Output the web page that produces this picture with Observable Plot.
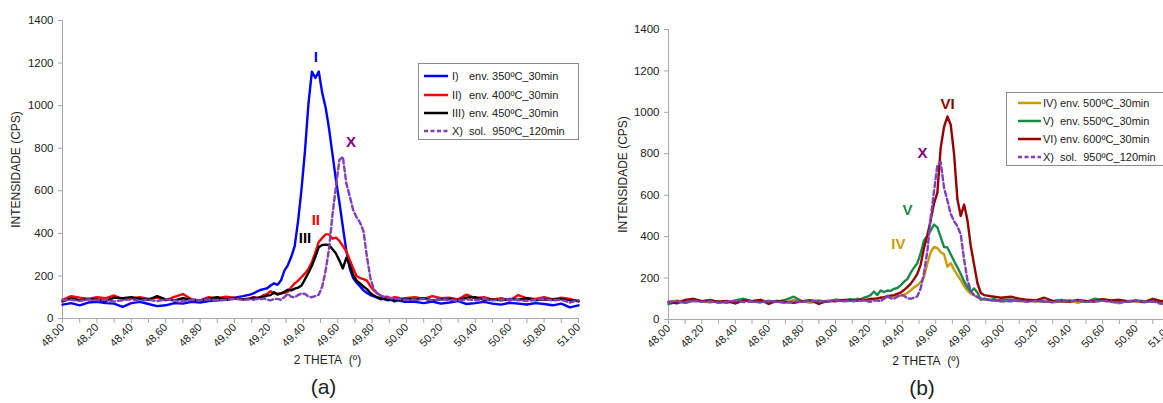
<!DOCTYPE html>
<html><head><meta charset="utf-8">
<script src="https://cdn.jsdelivr.net/npm/d3@7"></script>
<script src="https://cdn.jsdelivr.net/npm/@observablehq/plot@0.6"></script>
<style>
body{margin:0;background:#fff;}
#wrap{position:relative;width:1163px;height:403px;overflow:hidden;font-family:"Liberation Sans",Arial,sans-serif;background:#fff;}
.panel{position:absolute;top:0;}
.legend{position:absolute;border:1px solid #8c8c8c;background:#fff;font-size:11px;color:#222;box-sizing:border-box;}
.row{position:absolute;height:14px;line-height:14px;white-space:pre;}
.sw{position:absolute;}
</style></head>
<body><div id="wrap"></div>
<script>
// 2θ sample positions
const thetaLeft = [48.00,48.05,48.10,48.15,48.20,48.25,48.30,48.35,48.40,48.45,48.50,48.55,48.60,48.65,48.70,48.75,48.80,48.85,48.90,48.95,49.00,49.05];
const thetaPeak = [49.09,49.11,49.13,49.15,49.17,49.19,49.21,49.23,49.25,49.27,49.29,49.31,49.33,49.35,49.37,49.39,49.41,49.43,49.45,49.47,49.49,49.51,49.53,49.55,49.57,49.59,49.61,49.63,49.65,49.67,49.69,49.71,49.73,49.75,49.77,49.79,49.81,49.83,49.85,49.87,49.89,49.91,49.93,49.95,49.97,49.99];
const thetaRight = [50.05,50.10,50.15,50.20,50.25,50.30,50.35,50.40,50.45,50.50,50.55,50.60,50.65,50.70,50.75,50.80,50.85,50.90,50.95,51.00];
const theta = [...thetaLeft, ...thetaPeak, ...thetaRight];

// Panel (a)
const seriesI = [
  65,72,62,75,78,72,70,55,72,78,68,58,62,72,70,78,75,82,85,88,98,105,
  112,118,126,134,138,142,155,165,158,178,225,250,290,340,460,610,790,1010,1160,1130,1160,1060,990,890,770,650,545,430,320,235,190,168,150,132,120,110,104,98,90,92,85,88,80,85,82,78,
  78,72,80,70,75,82,68,72,78,70,65,74,70,66,72,68,62,70,52,62];
const seriesII = [
  88,105,98,92,100,95,108,90,95,100,92,98,85,102,115,90,85,100,95,102,98,90,
  95,100,98,100,110,116,128,118,116,118,120,125,147,165,178,195,212,232,265,310,360,378,395,395,375,380,365,340,315,275,235,200,190,185,178,152,132,118,108,100,102,95,100,98,92,95,
  100,92,105,95,98,90,112,95,100,88,95,85,110,95,92,100,90,98,92,80];
const seriesIII = [
  80,95,85,92,88,82,98,95,100,92,88,105,90,85,95,88,85,92,100,88,95,90,
  92,98,95,100,102,108,110,123,112,118,125,135,132,140,145,155,185,215,248,290,335,345,347,345,325,305,272,235,285,250,205,178,165,150,138,120,108,100,95,92,88,92,85,90,88,92,
  88,95,85,90,92,85,98,100,88,90,85,92,88,95,85,90,88,92,85,82];
// shared reference (both panels)
const seriesX = [
  85,88,82,90,85,88,80,86,90,84,88,82,90,85,80,88,85,90,86,88,92,88,
  90,88,92,90,95,88,85,92,92,88,100,116,102,100,110,118,115,103,100,105,112,150,225,330,490,620,745,760,635,575,510,475,450,410,290,190,138,118,108,102,100,95,92,92,90,88,
  88,92,85,90,88,84,90,86,92,85,88,90,86,82,88,92,85,88,75,86];
// Panel (b)
const seriesIV = [
  85,92,80,95,88,82,90,86,78,92,88,95,85,90,82,95,88,80,92,85,96,90,
  95,92,98,90,95,100,96,102,98,105,102,108,106,110,112,115,120,128,140,155,165,180,205,270,325,350,345,325,315,255,272,240,215,190,162,140,125,116,108,100,98,95,92,95,90,88,
  92,88,95,85,90,82,88,95,80,90,86,92,85,78,90,88,82,95,80,85];
const seriesV = [
  75,85,82,90,88,95,85,80,92,100,88,85,90,86,95,110,88,92,90,85,95,92,
  98,95,100,96,105,110,118,135,118,140,132,140,138,148,152,165,182,195,225,250,272,320,382,405,430,458,445,398,350,348,315,282,252,220,185,155,135,150,130,95,100,98,95,100,92,95,
  95,90,88,92,85,90,95,88,92,85,100,95,90,88,85,92,88,85,90,88];
const seriesVI = [
  85,78,95,100,88,92,85,90,78,92,88,95,75,90,85,80,88,92,75,90,88,95,
  92,95,90,98,92,95,100,98,102,105,108,112,115,118,124,130,142,156,172,195,220,265,345,405,480,560,612,830,930,980,940,800,580,500,555,480,355,265,175,128,118,115,112,110,108,105,
  110,100,95,92,105,90,88,85,95,90,88,98,92,95,88,90,85,100,88,92];

const yTicks = [0,200,400,600,800,1000,1200,1400];
const xTicks = [48.0,48.1,48.2,48.3,48.4,48.5,48.6,48.7,48.8,48.9,49.0,49.1,49.2,49.3,49.4,49.5,49.6,49.7,49.8,49.9,50.0,50.1,50.2,50.3,50.4,50.5,50.6,50.7,50.8,50.9,51.0];
const xLabel = "2 THETA\u00a0\u00a0(º)";
const yLabel = "INTENSIDADE (CPS)";

const legendA = [
  {name:"I)", text:"env. 350ºC_30min", color:"#0000ff"},
  {name:"II)", text:"env. 400ºC_30min", color:"#ff0000"},
  {name:"III)", text:"env. 450ºC_30min", color:"#000000"},
  {name:"X)", text:"sol.\u00a0\u00a0950ºC_120min", color:"#7f3fbf", dash:true}
];
const legendB = [
  {name:"IV)", text:"env. 500ºC_30min", color:"#cc9a06"},
  {name:"V)", text:"env. 550ºC_30min", color:"#178a47"},
  {name:"VI)", text:"env. 600ºC_30min", color:"#980000"},
  {name:"X)", text:"sol.\u00a0\u00a0950ºC_120min", color:"#7f3fbf", dash:true}
];

const linesA = [
  {values: seriesI, color:"#0000ff"},
  {values: seriesII, color:"#ff0000"},
  {values: seriesIII, color:"#000000"},
  {values: seriesX, color:"#7f3fbf", dash:"5,3"}
];
const linesB = [
  {values: seriesIV, color:"#cc9a06"},
  {values: seriesV, color:"#178a47"},
  {values: seriesVI, color:"#980000"},
  {values: seriesX, color:"#7f3fbf", dash:"5,3"}
];
const notesA = [
  {x:49.473, y:1226, text:"I", color:"#0000ff"},
  {x:49.677, y:827, text:"X", color:"#800080"},
  {x:49.473, y:460, text:"II", color:"#ff0000"},
  {x:49.41, y:376, text:"III", color:"#000000"}
];
const notesB = [
  {x:49.671, y:1038, text:"VI", color:"#980000"},
  {x:49.521, y:802, text:"X", color:"#800080"},
  {x:49.431, y:526, text:"V", color:"#178a47"},
  {x:49.377, y:362, text:"IV", color:"#cc9a06"}
];

const fmt = d => d.toFixed(2).replace(".", ",");

function panel(lines, notes, caption, m) {
  return Plot.plot({
    width: 590, height: 403,
    marginLeft: m.left, marginRight: m.right, marginTop: m.top, marginBottom: m.bottom,
    x: {domain: [48, 51]},
    y: {domain: [0, 1400]},
    style: {fontFamily: '"Liberation Sans", Arial, sans-serif', fontSize: "11.5px", color: "#222", background: "transparent", overflow: "visible"},
    marks: [
      Plot.ruleX([48], {stroke: "#a8a8a8"}),
      Plot.ruleY([0], {stroke: "#a8a8a8"}),
      Plot.axisY({ticks: yTicks, tickSize: 4, tickPadding: 5, stroke: "#a8a8a8", label: null, fontSize: 11.5, tickFormat: d => String(d)}),
      Plot.axisX({ticks: xTicks, tickSize: 5, tickPadding: 2, stroke: "#a8a8a8", tickRotate: -45, label: null, fontSize: 11,
        tickFormat: d => Math.round(d * 10) % 2 === 0 ? fmt(d) : ""}),
      ...lines.map(s => Plot.line(theta.map((t, i) => ({t, v: s.values[i]})), {x: "t", y: "v", stroke: s.color, strokeWidth: 2.4, strokeDasharray: s.dash})),
      ...notes.map(n => Plot.text([n], {x: "x", y: "y", text: "text", fill: n.color, fontWeight: "bold", fontSize: 15})),
      Plot.text([xLabel], {frameAnchor: "bottom", textAnchor: "middle", lineAnchor: "middle", dx: 7, dy: 42, fontSize: 12}),
      Plot.text([caption], {frameAnchor: "bottom", textAnchor: "middle", lineAnchor: "middle", dx: 3, dy: 69, fontSize: 21}),
      Plot.text([yLabel], {frameAnchor: "left", textAnchor: "middle", lineAnchor: "middle", dx: m.ylab, rotate: -90, fontSize: 12})
    ]
  });
}

function legend(items, box, rows, sw, textX) {
  const div = document.createElement("div");
  div.className = "legend";
  Object.assign(div.style, {left: box.left + "px", top: box.top + "px", width: box.width + "px", height: box.height + "px"});
  items.forEach((it, i) => {
    const cy = rows[i];
    const svg = document.createElementNS("http://www.w3.org/2000/svg", "svg");
    svg.setAttribute("class", "sw");
    svg.setAttribute("width", sw.width);
    svg.setAttribute("height", 6);
    svg.style.left = sw.left + "px";
    svg.style.top = (cy - 3) + "px";
    const ln = document.createElementNS("http://www.w3.org/2000/svg", "line");
    ln.setAttribute("x1", 0); ln.setAttribute("x2", sw.width);
    ln.setAttribute("y1", 3); ln.setAttribute("y2", 3);
    ln.setAttribute("stroke", it.color); ln.setAttribute("stroke-width", 2.5);
    if (it.dash) ln.setAttribute("stroke-dasharray", "4,2.5");
    svg.appendChild(ln);
    div.appendChild(svg);
    const r = document.createElement("div");
    r.className = "row";
    r.style.left = textX + "px";
    r.style.top = (cy - 7) + "px";
    const n = document.createElement("span");
    n.style.display = "inline-block"; n.style.width = "17px";
    n.textContent = it.name;
    const t = document.createElement("span");
    t.textContent = it.text;
    r.appendChild(n); r.appendChild(t);
    div.appendChild(r);
  });
  return div;
}

const wrap = document.getElementById("wrap");
const a = panel(linesA, notesA, "(a)", {left: 62, right: 12, top: 20, bottom: 85, ylab: -46});
a.classList.add("panel"); a.style.left = "0px";
const b = panel(linesB, notesB, "(b)", {left: 78, right: 11, top: 29, bottom: 84, ylab: -45});
b.classList.add("panel"); b.style.left = "590px";
wrap.appendChild(a);
wrap.appendChild(b);
wrap.appendChild(legend(legendA, {left: 418, top: 63, width: 161, height: 77}, [12, 31, 49, 67], {left: 5, width: 24}, 33));
wrap.appendChild(legend(legendB, {left: 1006, top: 92, width: 175, height: 74}, [10, 28, 46, 64], {left: 11, width: 23}, 36));
</script>
</body></html>
